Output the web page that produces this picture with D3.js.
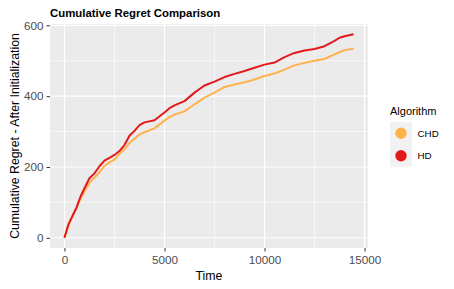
<!DOCTYPE html>
<html>
<head>
<meta charset="utf-8">
<script src="https://cdn.jsdelivr.net/npm/d3@7"></script>
<style>
	body { margin: 0; background: #fff; }
	text { font-family: Arial, "Liberation Sans", sans-serif; }
</style>
</head>
<body>
<div id="chart"></div>
<script>
// time steps shared by both series
var timeSteps = [0, 200, 400, 600, 800, 1000, 1250, 1500, 1750, 2000, 2250, 2500, 2750, 3000, 3250, 3500, 3750, 4000, 4500,
	5000, 5250, 5500, 6000, 6500, 7000, 7500, 8000, 8500, 9000, 9500, 10000, 10500, 11000, 11500,
	12000, 12500, 13000, 13500, 13750, 14000, 14450];

var chdRegret = [0, 36, 60, 84, 111, 131, 155, 170, 185, 203, 213, 221, 237, 250, 268, 280, 292, 298, 309,
	331, 341, 348, 357, 377, 396, 410, 426, 433, 439, 447, 457, 464, 475, 487,
	494, 500, 505, 518, 524, 530, 534];

var hdRegret = [0, 38, 62, 85, 116, 140, 168, 182, 202, 218, 226, 234, 245, 262, 288, 302, 318, 326, 332,
	354, 366, 374, 386, 410, 430, 441, 454, 463, 471, 480, 489, 495, 510, 522,
	529, 533, 541, 556, 565, 569, 575];

var algorithms = ['CHD', 'HD'];
var xTicks = [0, 5000, 10000, 15000];
var yTicks = [0, 200, 400, 600];

var colors = { CHD: '#FEB24C', HD: '#E31A1C' };

var series = [
	{ name: 'CHD', values: chdRegret },
	{ name: 'HD', values: hdRegret }
];

var W = 454, H = 289;
var panel = { left: 50, top: 24, right: 368, bottom: 248 };

var svg = d3.select('#chart').append('svg')
	.attr('width', W)
	.attr('height', H);

// ggplot style 5% expansion
function expand(ext) {
	var pad = (ext[1] - ext[0]) * 0.05;
	return [ext[0] - pad, ext[1] + pad];
}

var allValues = chdRegret.concat(hdRegret);

var xScale = d3.scaleLinear()
	.domain(expand(d3.extent(timeSteps)))
	.range([panel.left, panel.right]);

var yScale = d3.scaleLinear()
	.domain(expand(d3.extent(allValues)))
	.range([panel.bottom, panel.top]);

// panel background
svg.append('rect')
	.attr('x', panel.left)
	.attr('y', panel.top)
	.attr('width', panel.right - panel.left)
	.attr('height', panel.bottom - panel.top)
	.attr('fill', '#EBEBEB');

// minor grid
var xMinor = [2500, 7500, 12500];
var yMinor = [100, 300, 500];

svg.selectAll('.xminor').data(xMinor).enter().append('line')
	.attr('x1', function(d) { return xScale(d); })
	.attr('x2', function(d) { return xScale(d); })
	.attr('y1', panel.top).attr('y2', panel.bottom)
	.attr('stroke', '#fff').attr('stroke-width', 0.6);

svg.selectAll('.yminor').data(yMinor).enter().append('line')
	.attr('y1', function(d) { return yScale(d); })
	.attr('y2', function(d) { return yScale(d); })
	.attr('x1', panel.left).attr('x2', panel.right)
	.attr('stroke', '#fff').attr('stroke-width', 0.6);

// major grid
svg.selectAll('.xmajor').data(xTicks).enter().append('line')
	.attr('x1', function(d) { return xScale(d); })
	.attr('x2', function(d) { return xScale(d); })
	.attr('y1', panel.top).attr('y2', panel.bottom)
	.attr('stroke', '#fff').attr('stroke-width', 1.1);

svg.selectAll('.ymajor').data(yTicks).enter().append('line')
	.attr('y1', function(d) { return yScale(d); })
	.attr('y2', function(d) { return yScale(d); })
	.attr('x1', panel.left).attr('x2', panel.right)
	.attr('stroke', '#fff').attr('stroke-width', 1.1);

// axes
var xAxis = d3.axisBottom(xScale).tickValues(xTicks).tickSize(3.5).tickPadding(4).tickFormat(d3.format('d'));
var yAxis = d3.axisLeft(yScale).tickValues(yTicks).tickSize(3.5).tickPadding(3).tickFormat(d3.format('d'));

var gx = svg.append('g')
	.attr('transform', 'translate(0,' + panel.bottom + ')')
	.call(xAxis);
var gy = svg.append('g')
	.attr('transform', 'translate(' + panel.left + ',0)')
	.call(yAxis);

[gx, gy].forEach(function(g) {
	g.select('.domain').remove();
	g.selectAll('.tick line').attr('stroke', '#333333').attr('stroke-width', 1);
	g.selectAll('.tick text')
		.attr('fill', '#4D4D4D')
		.style('font-size', '11.7px')
		.style('font-family', 'Arial, "Liberation Sans", sans-serif');
});

// lines
var line = d3.line()
	.x(function(d, i) { return xScale(timeSteps[i]); })
	.y(function(d) { return yScale(d); });

svg.selectAll('.series').data(series).enter().append('path')
	.attr('class', 'series')
	.attr('d', function(s) { return line(s.values); })
	.attr('fill', 'none')
	.attr('stroke', function(s) { return colors[s.name]; })
	.attr('stroke-width', 2)
	.attr('stroke-linejoin', 'round');

// titles
svg.append('text')
	.attr('x', panel.left)
	.attr('y', 16.5)
	.attr('font-size', '11.4px')
	.attr('font-weight', 'bold')
	.attr('fill', '#000')
	.text('Cumulative Regret Comparison');

svg.append('text')
	.attr('x', (panel.left + panel.right) / 2)
	.attr('y', 280)
	.attr('text-anchor', 'middle')
	.attr('font-size', '12.3px')
	.attr('fill', '#000')
	.text('Time');

svg.append('text')
	.attr('transform', 'translate(18.5,' + ((panel.top + panel.bottom) / 2) + ') rotate(-90)')
	.attr('text-anchor', 'middle')
	.attr('font-size', '12.3px')
	.attr('fill', '#000')
	.text('Cumulative Regret - After Initialization');

// legend
var legend = svg.append('g').attr('transform', 'translate(390,0)');

legend.append('text')
	.attr('x', 0)
	.attr('y', 115)
	.attr('font-size', '11px')
	.attr('fill', '#000')
	.text('Algorithm');

var keys = legend.selectAll('.key').data(algorithms).enter().append('g')
	.attr('transform', function(d, i) { return 'translate(0,' + (122 + i * 22.4) + ')'; });

keys.append('rect')
	.attr('width', 22).attr('height', 22.4)
	.attr('fill', '#F2F2F2');

keys.append('circle')
	.attr('cx', 11).attr('cy', 11.3).attr('r', 5.7)
	.attr('fill', function(d) { return colors[d]; });

keys.append('text')
	.attr('x', 27.5).attr('y', 11.3)
	.attr('dy', '0.35em')
	.attr('font-size', '9.8px')
	.attr('fill', '#000')
	.text(function(d) { return d; });
</script>
</body>
</html>
